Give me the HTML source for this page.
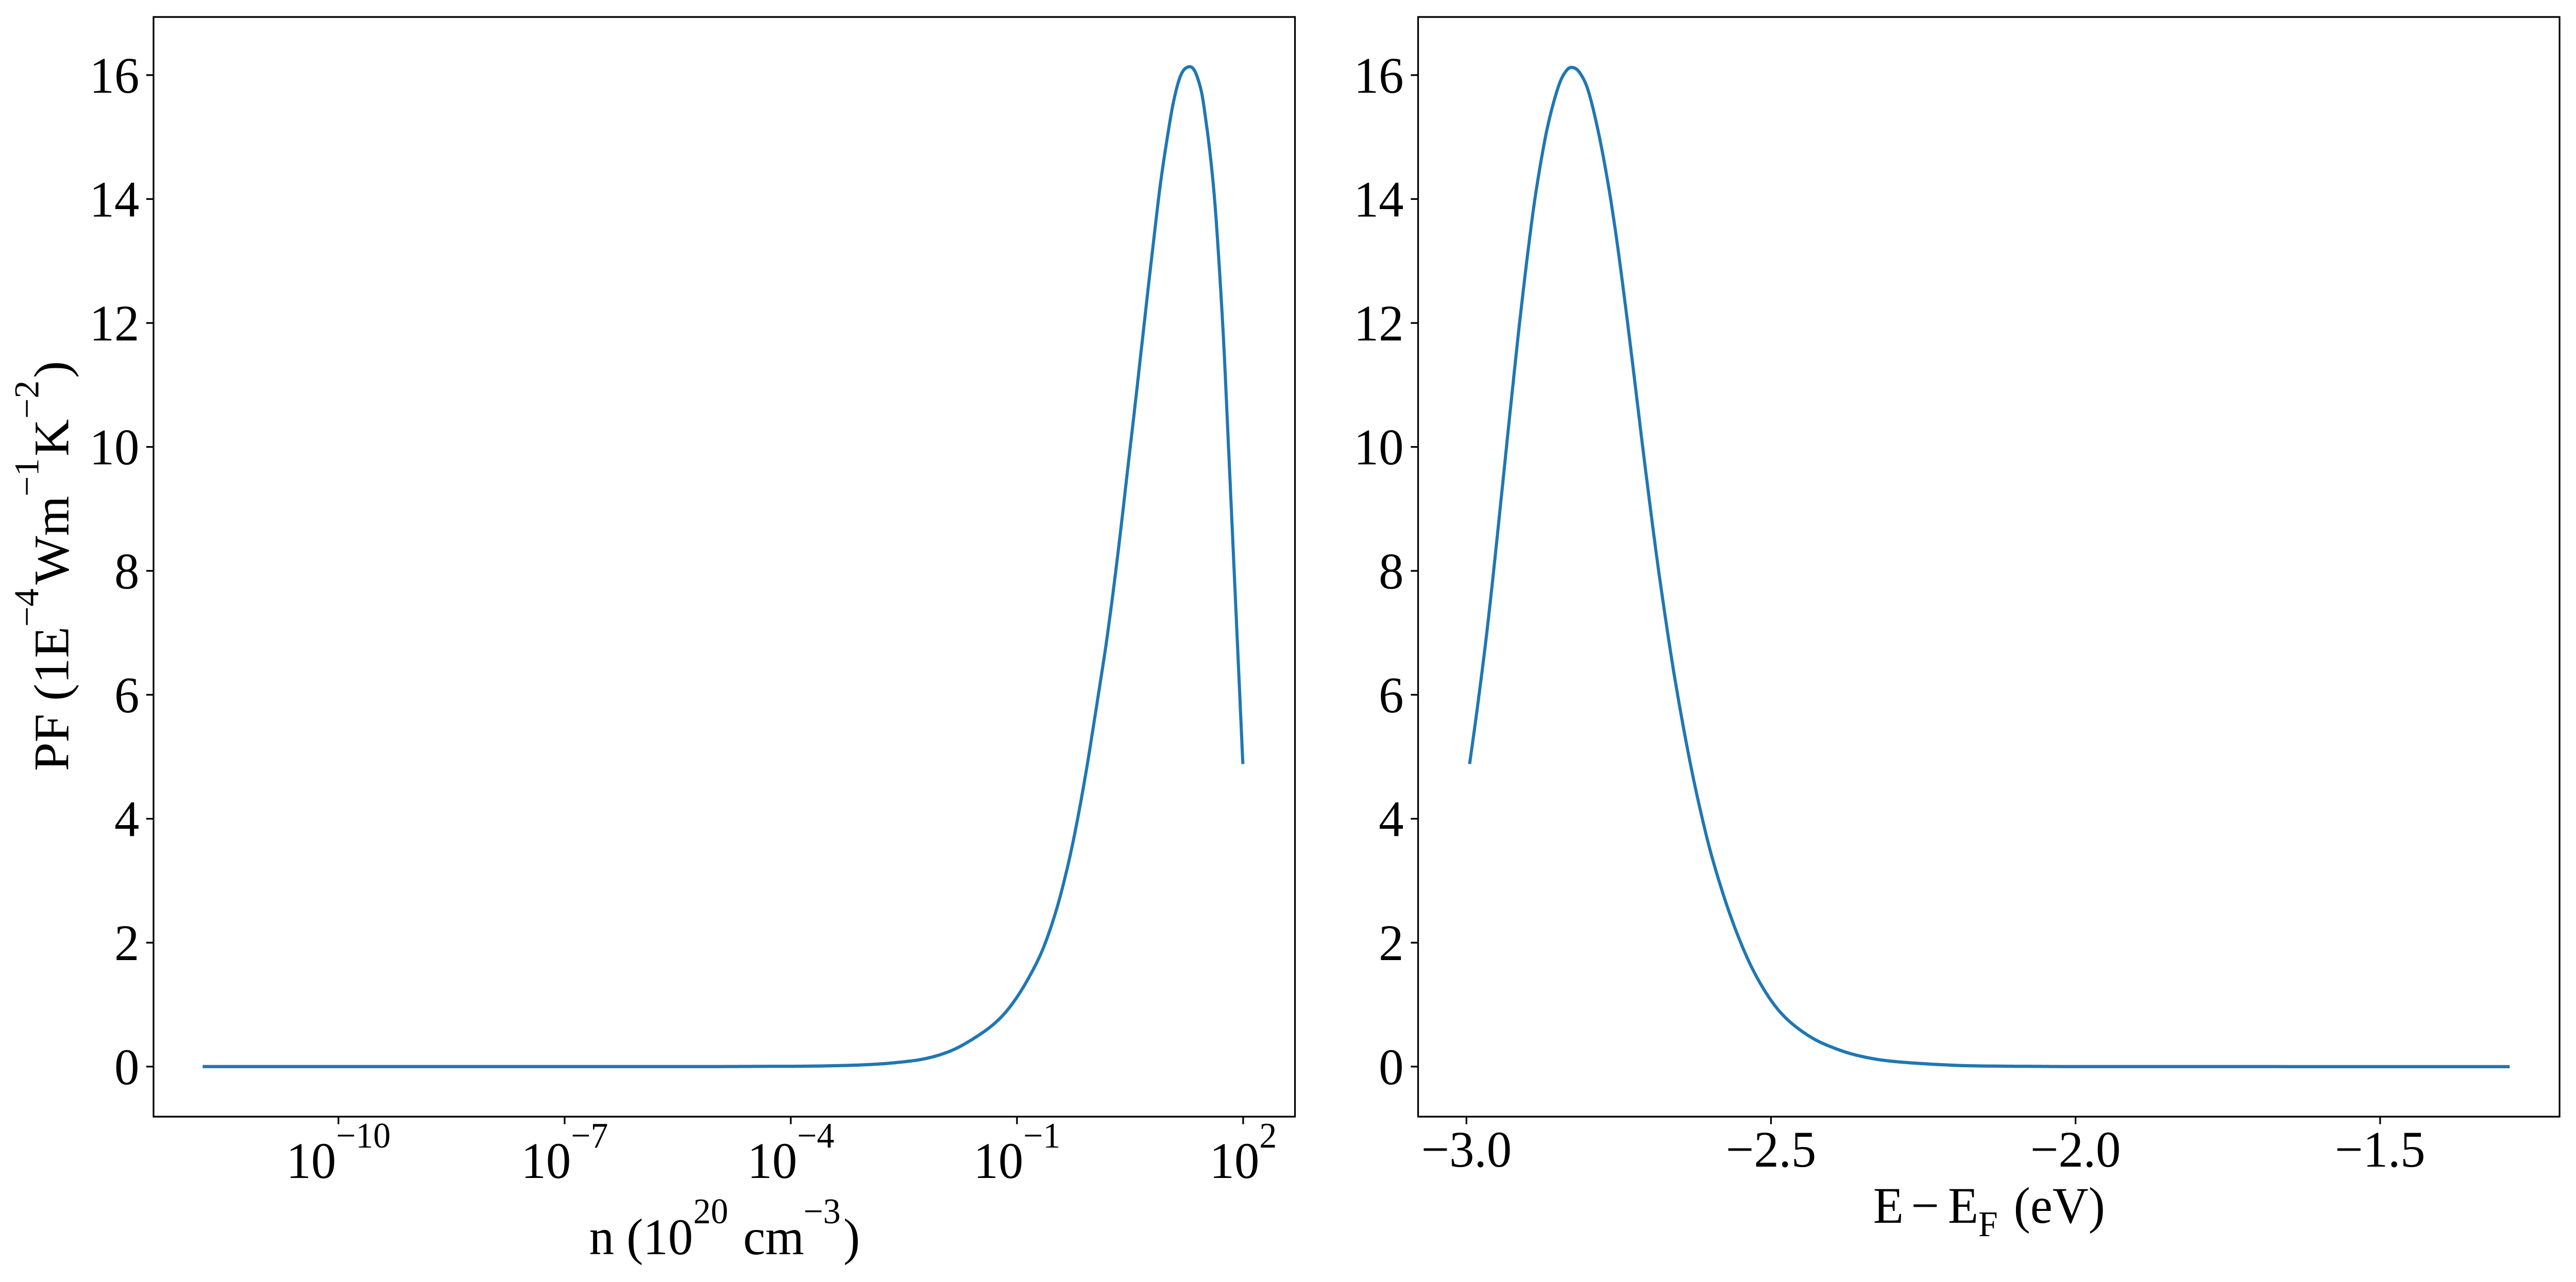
<!DOCTYPE html>
<html>
<head>
<meta charset="utf-8">
<style>
  html, body { margin: 0; padding: 0; background: #ffffff; overflow: hidden; width: 100%; height: 100%; }
  svg { display: block; width: 100vw; height: 100vh; }
  text { font-family: "Liberation Serif", "Times New Roman", serif; fill: #000000; }
</style>
</head>
<body>
<svg viewBox="0 0 5168 2489" preserveAspectRatio="none" xmlns="http://www.w3.org/2000/svg">
  <rect x="0" y="0" width="5168" height="2489" fill="#ffffff"/>

  <!-- ================= LEFT AXES ================= -->
  <polyline class="curve" fill="none" stroke="#1f77b4" stroke-width="6.25" stroke-linejoin="round" stroke-linecap="square"
    points="409.8,2070.8 1284,2070.8 1435.3,2070.7 1586.5,2070.2 1662.1,2069.3 1737.8,2067.1 1800,2062.8 1857.4,2055.1 1911,2038.8 1960.7,2011.7 1999,1983.7 2029.6,1950.5 2060.2,1904.6 2090.8,1845.9 2117.6,1772 2140.6,1687.8 2159.7,1601 2178.8,1499 2194.1,1407 2211.4,1300 2221.4,1235 2235.2,1134 2249.0,1024 2262.8,907 2276.5,792.7 2290.3,673.5 2304.1,554.2 2313.3,477 2327.0,364.8 2340.8,273.6 2354.6,196.4 2368.4,147.3 2382.1,130.5 2395.9,136.1 2409.7,175.4 2418.9,231.5 2428.1,301.7 2437.2,392.9 2446.4,522 2455.6,677 2464.8,871 2474.0,1066.3 2483.2,1262.8 2493.3,1480.2"/>

  <rect x="308" y="33" width="2290" height="2135" fill="none" stroke="#000" stroke-width="3.33"/>

  <g stroke="#000" stroke-width="3.33">
    <line x1="293.4" y1="2070.8" x2="308" y2="2070.8"/>
    <line x1="293.4" y1="1830.2" x2="308" y2="1830.2"/>
    <line x1="293.4" y1="1589.6" x2="308" y2="1589.6"/>
    <line x1="293.4" y1="1348.9" x2="308" y2="1348.9"/>
    <line x1="293.4" y1="1108.3" x2="308" y2="1108.3"/>
    <line x1="293.4" y1="867.7" x2="308" y2="867.7"/>
    <line x1="293.4" y1="627.1" x2="308" y2="627.1"/>
    <line x1="293.4" y1="386.4" x2="308" y2="386.4"/>
    <line x1="293.4" y1="145.8" x2="308" y2="145.8"/>
  </g>
  <g font-size="100" text-anchor="end">
    <text x="279.5" y="2104.8">0</text>
    <text x="279.5" y="1864.2">2</text>
    <text x="279.5" y="1623.6">4</text>
    <text x="279.5" y="1382.9">6</text>
    <text x="279.5" y="1142.3">8</text>
    <text x="279.5" y="901.7">10</text>
    <text x="279.5" y="661.1">12</text>
    <text x="279.5" y="420.4">14</text>
    <text x="279.5" y="179.8">16</text>
  </g>

  <g stroke="#000" stroke-width="3.33">
    <line x1="679" y1="2168" x2="679" y2="2182.6"/>
    <line x1="1132.75" y1="2168" x2="1132.75" y2="2182.6"/>
    <line x1="1586.5" y1="2168" x2="1586.5" y2="2182.6"/>
    <line x1="2040.25" y1="2168" x2="2040.25" y2="2182.6"/>
    <line x1="2494" y1="2168" x2="2494" y2="2182.6"/>
  </g>
  <g font-size="100" text-anchor="middle">
    <text x="679" y="2287">10<tspan font-size="70" dy="-59">−10</tspan></text>
    <text x="1132.75" y="2287">10<tspan font-size="70" dy="-59">−7</tspan></text>
    <text x="1586.5" y="2287">10<tspan font-size="70" dy="-59">−4</tspan></text>
    <text x="2040.25" y="2287">10<tspan font-size="70" dy="-59">−1</tspan></text>
    <text x="2494" y="2287">10<tspan font-size="70" dy="-59">2</tspan></text>
  </g>

  <text x="1182" y="2435" font-size="100" xml:space="preserve">n (10</text>
  <text x="1391" y="2375" font-size="70">20</text>
  <text x="1491" y="2435" font-size="100">cm</text>
  <text x="1612" y="2375" font-size="70">−3</text>
  <text x="1692" y="2435" font-size="100">)</text>

  <g transform="translate(137,1497) rotate(-90)">
    <text x="0" y="0" font-size="100" xml:space="preserve">PF (1E</text>
    <text x="280" y="-60" font-size="70">−4</text>
    <text x="362" y="0" font-size="100">Wm</text>
    <text x="533" y="-60" font-size="70">−1</text>
    <text x="611" y="0" font-size="100">K</text>
    <text x="684" y="-60" font-size="70">−2</text>
    <text x="763" y="0" font-size="100">)</text>
  </g>

  <!-- ================= RIGHT AXES ================= -->
  <polyline class="curve" fill="none" stroke="#1f77b4" stroke-width="6.25" stroke-linejoin="round" stroke-linecap="square"
    points="2948.8,1480.2 2962.0,1387.8 2976.4,1279.8 2985.0,1210.1 2996.5,1108.9 3013.7,948.9 3028.0,814.5 3042.4,682 3051.0,606.3 3065.3,489 3079.7,383.9 3096.9,284.1 3111.3,219.3 3128.5,162.5 3142.8,136.8 3154.3,131 3168.6,140.3 3185.9,174.9 3205.9,252.9 3226.0,355.4 3243.3,464.4 3260.5,590 3274.8,701.5 3289.2,816.7 3300.7,907.6 3317.9,1038.3 3332.2,1139.8 3352.3,1270.5 3369.5,1370.3 3389.6,1474.8 3409.7,1566.3 3432.7,1657.2 3461.4,1749 3490.1,1825 3518.8,1886.7 3553.2,1942.4 3587.7,1981 3633.6,2014 3679.5,2034.7 3730.0,2049.9 3797.7,2060.6 3920.0,2068.2 4042.2,2070.2 4164.5,2070.8 5031.8,2070.9"/>

  <rect x="2845" y="33" width="2290" height="2135" fill="none" stroke="#000" stroke-width="3.33"/>

  <g stroke="#000" stroke-width="3.33">
    <line x1="2830.4" y1="2070.8" x2="2845" y2="2070.8"/>
    <line x1="2830.4" y1="1830.2" x2="2845" y2="1830.2"/>
    <line x1="2830.4" y1="1589.6" x2="2845" y2="1589.6"/>
    <line x1="2830.4" y1="1348.9" x2="2845" y2="1348.9"/>
    <line x1="2830.4" y1="1108.3" x2="2845" y2="1108.3"/>
    <line x1="2830.4" y1="867.7" x2="2845" y2="867.7"/>
    <line x1="2830.4" y1="627.1" x2="2845" y2="627.1"/>
    <line x1="2830.4" y1="386.4" x2="2845" y2="386.4"/>
    <line x1="2830.4" y1="145.8" x2="2845" y2="145.8"/>
  </g>
  <g font-size="100" text-anchor="end">
    <text x="2816" y="2104.8">0</text>
    <text x="2816" y="1864.2">2</text>
    <text x="2816" y="1623.6">4</text>
    <text x="2816" y="1382.9">6</text>
    <text x="2816" y="1142.3">8</text>
    <text x="2816" y="901.7">10</text>
    <text x="2816" y="661.1">12</text>
    <text x="2816" y="420.4">14</text>
    <text x="2816" y="179.8">16</text>
  </g>

  <g stroke="#000" stroke-width="3.33">
    <line x1="2942" y1="2168" x2="2942" y2="2182.6"/>
    <line x1="3553" y1="2168" x2="3553" y2="2182.6"/>
    <line x1="4164" y1="2168" x2="4164" y2="2182.6"/>
    <line x1="4775" y1="2168" x2="4775" y2="2182.6"/>
  </g>
  <g font-size="100" text-anchor="middle">
    <text x="2942" y="2265">−3.0</text>
    <text x="3553" y="2265">−2.5</text>
    <text x="4164" y="2265">−2.0</text>
    <text x="4775" y="2265">−1.5</text>
  </g>

  <text x="3758" y="2374" font-size="100">E</text>
  <text x="3834" y="2374" font-size="100">−</text>
  <text x="3908" y="2374" font-size="100">E</text>
  <text x="3969" y="2400" font-size="70">F</text>
  <text x="4040" y="2374" font-size="100">(eV)</text>
</svg>
<script>
(function(){
  try {
    var lines = document.querySelectorAll('polyline.curve');
    for (var k = 0; k < lines.length; k++) {
      var pl = lines[k];
      var raw = pl.getAttribute('points').trim().split(/\s+/);
      var p = raw.map(function(s){ var a = s.split(','); return [parseFloat(a[0]), parseFloat(a[1])]; });
      var out = [];
      var n = p.length;
      for (var i = 0; i < n - 1; i++) {
        var p0 = p[i > 0 ? i - 1 : i], p1 = p[i], p2 = p[i + 1], p3 = p[i + 2 < n ? i + 2 : i + 1];
        var segLen = Math.abs(p2[0] - p1[0]) + Math.abs(p2[1] - p1[1]);
        var steps = Math.max(2, Math.min(24, Math.round(segLen / 4)));
        var flat = Math.abs(p2[1] - p1[1]) < 2 && Math.abs(p2[0] - p1[0]) > 80;
        for (var s = 0; s < steps; s++) {
          var t = s / steps;
          if (flat) {
            out.push([p1[0] + (p2[0] - p1[0]) * t, p1[1] + (p2[1] - p1[1]) * t]);
          } else {
            var t2 = t * t, t3 = t2 * t;
            var x = 0.5 * ((2 * p1[0]) + (-p0[0] + p2[0]) * t + (2 * p0[0] - 5 * p1[0] + 4 * p2[0] - p3[0]) * t2 + (-p0[0] + 3 * p1[0] - 3 * p2[0] + p3[0]) * t3);
            var y = 0.5 * ((2 * p1[1]) + (-p0[1] + p2[1]) * t + (2 * p0[1] - 5 * p1[1] + 4 * p2[1] - p3[1]) * t2 + (-p0[1] + 3 * p1[1] - 3 * p2[1] + p3[1]) * t3);
            out.push([x, y]);
          }
        }
      }
      out.push(p[n - 1]);
      pl.setAttribute('points', out.map(function(q){ return q[0].toFixed(1) + ',' + q[1].toFixed(1); }).join(' '));
    }
  } catch (e) {}
})();
</script>
</body>
</html>
